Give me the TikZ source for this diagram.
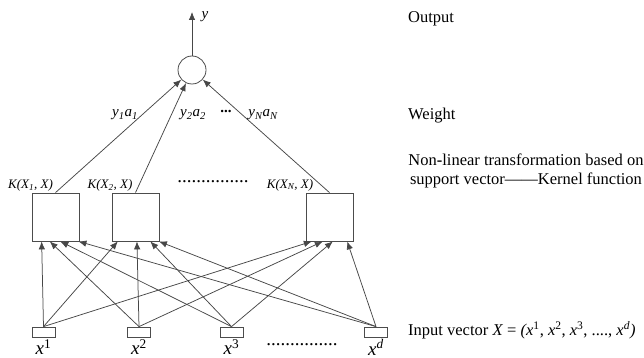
\documentclass[tikz,border=0pt]{standalone}
\usepackage{fontspec}
\setmainfont{Liberation Serif}
\usetikzlibrary{calc,positioning,arrows.meta}

\begin{document}
\begin{tikzpicture}[x=1pt,y=-1pt,>={Latex[length=8pt,width=6.5pt]},
    kernel/.style={draw=black!70,line width=0.8pt,minimum width=47pt,minimum height=48pt,inner sep=0pt},
    inbox/.style={draw=black!70,line width=0.8pt,minimum width=23pt,minimum height=10pt,inner sep=0pt},
    link/.style={->,draw=black!72,line width=0.75pt},
    klab/.style={font=\fontsize{13}{15}\selectfont\itshape,inner sep=0pt},
    wlab/.style={font=\fontsize{15}{17}\selectfont\itshape,inner sep=0pt},
    xlab/.style={font=\fontsize{19}{21}\selectfont\itshape,inner sep=0pt},
    side/.style={font=\fontsize{16.5}{19}\selectfont,inner sep=0pt,anchor=west}]
    \useasboundingbox (0,0) rectangle (644,358);

    % Sortie
    \node[circle,draw=black!70,line width=0.8pt,minimum size=28pt,inner sep=0pt] (sum) at (192,70) {};
    \coordinate (out) at (192,12);
    \draw[link] (sum) -- (out);
    \node[wlab] (y) at (205,17) {y};

    % Noyaux
    \node[kernel] (k1) at (55.5,217) {};
    \node[kernel] (k2) at (135.5,217) {};
    \node[kernel] (kN) at (329.5,217) {};
    \node[klab] (K1) at (30.5,185) {K(X\textsubscript{1}, X)};
    \node[klab] (K2) at (110,185) {K(X\textsubscript{2}, X)};
    \node[klab] (KN) at (290,185) {K(X\textsubscript{N}, X)};
    \node[font=\fontsize{19}{20}\selectfont,inner sep=0pt] (kdots) at (213,182) {...............};

    % Poids
    \draw[link] (k1.north) -- (sum);
    \draw[link] (k2.north) -- (sum);
    \draw[link] (kN.north) -- (sum);
    \node[wlab] (w1) at (125,115) {y\textsubscript{1}a\textsubscript{1}};
    \node[wlab] (w2) at (193,115) {y\textsubscript{2}a\textsubscript{2}};
    \node[font=\fontsize{15}{17}\selectfont\bfseries,inner sep=0pt] (wdots) at (226,111) {...};
    \node[wlab] (wN) at (263,115) {y\textsubscript{N}a\textsubscript{N}};

    % Entrees
    \node[inbox] (in1) at (43.5,332) {};
    \node[inbox] (in2) at (139,332) {};
    \node[inbox] (in3) at (231.5,332) {};
    \node[inbox] (ind) at (376,332) {};
    \node[xlab,below=2pt of in1] (x1) {x\textsuperscript{\upshape 1}};
    \node[xlab,below=2pt of in2] (x2) {x\textsuperscript{\upshape 2}};
    \node[xlab,below=2pt of in3] (x3) {x\textsuperscript{\upshape 3}};
    \node[xlab,below=2pt of ind] (xd) {x\textsuperscript{d}};
    \node[font=\fontsize{19}{20}\selectfont,inner sep=0pt] (xdots) at (302,345) {...............};

    % Vecteurs vers les noyaux
    \draw[link] (in1.north) -- ($(k1.south west)!0.21!(k1.south east)$);
    \draw[link] (in1.north) -- ($(k2.south west)!0.13!(k2.south east)$);
    \draw[link] (in1.north) -- ($(kN.south west)!0.13!(kN.south east)$);
    \draw[link] (in2.north) -- ($(k1.south west)!0.38!(k1.south east)$);
    \draw[link] (in2.north) -- ($(k2.south west)!0.53!(k2.south east)$);
    \draw[link] (in2.north) -- ($(kN.south west)!0.36!(kN.south east)$);
    \draw[link] (in3.north) -- ($(k1.south west)!0.60!(k1.south east)$);
    \draw[link] (in3.north) -- ($(k2.south west)!0.81!(k2.south east)$);
    \draw[link] (in3.north) -- ($(kN.south west)!0.57!(kN.south east)$);
    \draw[link] (ind.north) -- ($(k1.south west)!0.98!(k1.south east)$);
    \draw[link] (ind.north) -- ($(k2.south west)!0.99!(k2.south east)$);
    \draw[link] (ind.north) -- ($(kN.south west)!0.87!(kN.south east)$);

    % Legende
    \node[side] (tout) at (408,19) {Output};
    \node[side] (tw) at (408,116) {Weight};
    \node[side,anchor=center,align=center] (tk) at (526,171) {Non\textbf{-}linear transformation based on\\support vector——Kernel function};
    \node[side] (tin) at (408,330) {Input vector \textit{X} = \textit{(x}\textsuperscript{1}, \textit{x}\textsuperscript{2}, \textit{x}\textsuperscript{3}, ...., \textit{x}\textsuperscript{\textit{d}}\textit{)}};

\end{tikzpicture}
\end{document}
